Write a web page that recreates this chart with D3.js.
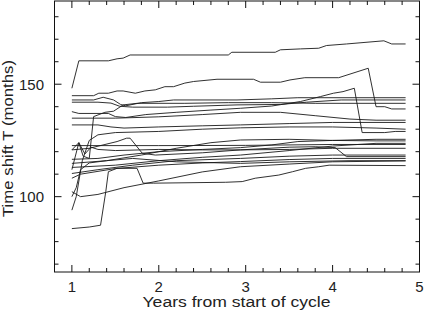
<!DOCTYPE html>
<html>
<head>
<meta charset="utf-8">
<script src="https://cdn.jsdelivr.net/npm/d3@7"></script>
<style>
  body { margin: 0; background: #fff; }
  svg { display: block; }
  text { font-family: "Liberation Sans", "DejaVu Sans", sans-serif; fill: #222; }
</style>
</head>
<body>
<svg></svg>
<script>
/*------------------------
  ------ VARIABLES -------
  ------------------------*/

// axes
var x_domain = [0.8, 5];
var y_domain = [66.5, 187];
var x_major = [1, 2, 3, 4, 5];
var y_major = [100, 150];
var x_title = "Years from start of cycle";
var y_title = "Time shift T (months)";

// data : [years, months] knots for each track
var s01 = [[1,148.2],[1.08,160.4],[1.42,160.4],[1.52,161.3],[1.59,161.6],[1.67,163],[2.8,163],[2.84,164.2],[3.34,164.2],[3.4,165.3],[3.63,165.7],[3.84,166],[3.93,167.2],[4.16,167.9],[4.59,169.3],[4.68,167.9],[4.84,167.9]];
var s02 = [[1,144.9],[1.25,144.9],[1.31,146],[1.42,146],[1.52,147],[1.59,147],[1.73,146],[1.84,147],[1.96,147.5],[2.07,148.9],[2.17,148.9],[2.3,150.5],[2.4,151.2],[2.67,152.2],[3.09,152.2],[3.17,150.9],[3.4,150.9],[3.51,151.9],[3.68,152.9],[4.07,152.9],[4.41,157.1],[4.5,140],[4.6,140],[4.68,139],[4.84,139]];
var s03 = [[1,143],[1.25,143],[1.36,144.2],[1.48,143],[1.56,141],[1.62,140.4],[1.8,141.8],[2.0,142.3],[2.17,143],[2.9,143],[3.3,143.5],[3.6,144],[4.84,144]];
var s04 = [[1,142],[1.3,142],[1.45,141.6],[1.55,140.2],[1.7,139.8],[2.1,139.8],[2.4,140.2],[2.9,140.8],[3.4,141],[3.7,142],[4.1,143],[4.84,143]];
var s05 = [[1,137.8],[1.08,137],[1.42,137],[1.5,135.6],[1.62,135.2],[1.85,136.5],[2.2,137.5],[2.6,138.5],[2.94,139.3],[3.3,140.3],[3.63,142.3],[3.86,144.5],[4.01,146],[4.12,146.7],[4.25,148.2],[4.34,128.5],[4.6,128.5],[4.72,129],[4.84,129]];
var s06 = [[1,120.8],[1.08,124],[1.13,118],[1.2,117],[1.25,135.6],[1.38,137.5],[1.48,138],[1.59,140.8],[1.75,141.5],[2.3,141.5],[2.8,141.8],[3.3,141.8],[3.8,141.5],[4.84,141.5]];
var s07 = [[1,134.9],[1.5,134.9],[2.0,135.5],[2.5,136.5],[2.94,137.5],[3.4,137.5],[3.8,136],[4.2,134.5],[4.5,134],[4.84,134]];
var s08 = [[1,131.9],[1.3,131.9],[1.45,131],[1.6,130.5],[2.0,131],[2.5,131.5],[2.94,131.9],[3.5,132.5],[4.0,133],[4.84,133]];
var s09 = [[1,94],[1.05,100],[1.12,116],[1.2,125],[1.3,127.5],[1.5,128.5],[2.0,129],[2.5,130],[2.94,130.6],[3.5,131],[4.0,131],[4.5,130.5],[4.84,130]];
var s10 = [[1,122.7],[2,122.7],[3,122.8],[4,123.2],[4.84,123.2]];
var s11 = [[1,120.8],[1.2,121.5],[1.52,124.5],[1.63,126],[1.67,126],[1.81,119.3],[1.96,118.5],[2.5,119.5],[2.94,120.8],[3.5,122],[3.8,122.2],[4.03,121.8],[4.16,117.8],[4.84,117.8]];
var s12 = [[1,116.6],[1.3,117],[1.6,118.5],[2.0,120],[2.5,121],[2.94,121.8],[3.3,123],[3.6,124.5],[4.0,125],[4.5,125.5],[4.84,125.5]];
var s13 = [[1,114.8],[1.4,116],[1.8,118.5],[2.2,121.5],[2.6,124],[2.94,125.2],[3.5,125.5],[4.0,125],[4.5,124.8],[4.84,124.8]];
var s14 = [[1,113],[1.5,114],[2,116],[2.5,117.5],[2.94,118.5],[3.5,120.5],[4,122.5],[4.5,123.7],[4.84,123.7]];
var s15 = [[1,110.3],[1.3,112],[1.7,114],[2.2,116],[2.94,117],[3.5,118],[4,118.5],[4.84,118.5]];
var s16 = [[1,108.2],[1.1,110],[1.5,112.5],[2,114],[2.5,115],[2.94,115.6],[3.5,116.5],[4,117],[4.84,117]];
var s17 = [[1,102.2],[1.1,100],[1.3,101],[1.6,104],[2,107],[2.5,111],[2.94,113.3],[3.5,114.5],[4,115.5],[4.84,115.9]];
var s18 = [[1,85.8],[1.2,86.5],[1.33,87.3],[1.39,102.2],[1.42,111.1],[1.52,112.6],[1.75,112.6],[1.82,106],[1.94,106],[2.77,106.4],[2.96,106.7],[3.11,108.2],[3.38,109.6],[3.54,111.1],[3.69,112.6],[3.84,113.3],[3.96,114],[4.84,113.8]];
var s19 = [[1,100],[1.05,104],[1.1,112],[1.2,115],[1.4,116],[1.7,117],[2.2,115.5],[2.94,114.8],[3.5,115.5],[4.2,116],[4.84,116]];
var s20 = [[1,112],[1.08,124],[1.15,119],[1.22,122],[1.3,121],[1.5,120.5],[2,121],[2.5,120.8],[2.94,120.8],[3.5,121],[4,121.5],[4.84,121.5]];

var tracks = [s01, s02, s03, s04, s05, s06, s07, s08, s09, s10,
              s11, s12, s13, s14, s15, s16, s17, s18, s19, s20];

// display settings
var W = 424, H = 313;
var box = {left: 54.5, right: 419.5, top: 1, bottom: 272};
var tick = {major: 7, minor: 4};

var x = d3.scaleLinear().domain(x_domain).range([box.left, box.right]);
var y = d3.scaleLinear().domain(y_domain).range([box.bottom, box.top]);

function x_minor() {
    var t = [];
    for (var i = 0; i <= 21; i++) t.push(0.8 + i * 0.2);
    return t.filter(function(v) { return x_major.indexOf(Math.round(v * 10) / 10) < 0; });
}
function y_minor() {
    var t = [];
    for (var v = 70; v <= 180; v += 10) if (v % 50 != 0) t.push(v);
    return t;
}

/*------------------------
  ------- DRAWING --------
  ------------------------*/

function display_frame(svg) {
    var g = svg.append("g").attr("class", "frame-layer");
    g.append("rect")
        .attr("x", box.left).attr("y", box.top)
        .attr("width", box.right - box.left).attr("height", box.bottom - box.top)
        .attr("fill", "none").attr("stroke", "#111").attr("stroke-width", 1);

    // x ticks, bottom and top, pointing in
    var xt = x_major.map(function(v) { return {v: v, l: tick.major}; })
        .concat(x_minor().map(function(v) { return {v: v, l: tick.minor}; }));
    g.selectAll("line.xb").data(xt).enter().append("line")
        .attr("x1", function(d) { return x(d.v); }).attr("x2", function(d) { return x(d.v); })
        .attr("y1", box.bottom).attr("y2", function(d) { return box.bottom - d.l; })
        .attr("stroke", "#111");
    g.selectAll("line.xt").data(xt).enter().append("line")
        .attr("x1", function(d) { return x(d.v); }).attr("x2", function(d) { return x(d.v); })
        .attr("y1", box.top).attr("y2", function(d) { return box.top + d.l; })
        .attr("stroke", "#111");

    // y ticks, left and right
    var yt = y_major.map(function(v) { return {v: v, l: tick.major}; })
        .concat(y_minor().map(function(v) { return {v: v, l: tick.minor}; }));
    g.selectAll("line.yl").data(yt).enter().append("line")
        .attr("y1", function(d) { return y(d.v); }).attr("y2", function(d) { return y(d.v); })
        .attr("x1", box.left).attr("x2", function(d) { return box.left + d.l; })
        .attr("stroke", "#111");
    g.selectAll("line.yr").data(yt).enter().append("line")
        .attr("y1", function(d) { return y(d.v); }).attr("y2", function(d) { return y(d.v); })
        .attr("x1", box.right).attr("x2", function(d) { return box.right - d.l; })
        .attr("stroke", "#111");

    // labels
    g.selectAll("text.xl").data(x_major).enter().append("text")
        .attr("x", x).attr("y", 292)
        .attr("text-anchor", "middle").attr("font-size", 15)
        .text(function(d) { return d; });
    g.selectAll("text.yl").data(y_major).enter().append("text")
        .attr("x", 44).attr("y", function(d) { return y(d) + 5.5; })
        .attr("text-anchor", "end").attr("font-size", 15)
        .text(function(d) { return d; });

    g.append("text")
        .attr("x", 236.5).attr("y", 307)
        .attr("text-anchor", "middle").attr("font-size", 14)
        .attr("textLength", 188).attr("lengthAdjust", "spacingAndGlyphs")
        .text(x_title);
    g.append("text")
        .attr("transform", "translate(13,138.5) rotate(-90)")
        .attr("text-anchor", "middle").attr("font-size", 14)
        .attr("textLength", 157).attr("lengthAdjust", "spacingAndGlyphs")
        .text(y_title);
}

function display_tracks(svg) {
    var line = d3.line()
        .x(function(d) { return x(d[0]); })
        .y(function(d) { return y(d[1]); });
    svg.append("g").attr("class", "tracks-layer")
        .selectAll("path")
        .data(tracks)
        .enter()
        .append("path")
        .attr("d", line)
        .attr("fill", "none")
        .attr("stroke", "#1a1a1a")
        .attr("stroke-width", 0.9);
}

/*------------------
  ------ RUN -------
  ------------------*/

var svg = d3.select("svg").attr("width", W).attr("height", H);
display_tracks(svg);
display_frame(svg);
</script>
</body>
</html>
